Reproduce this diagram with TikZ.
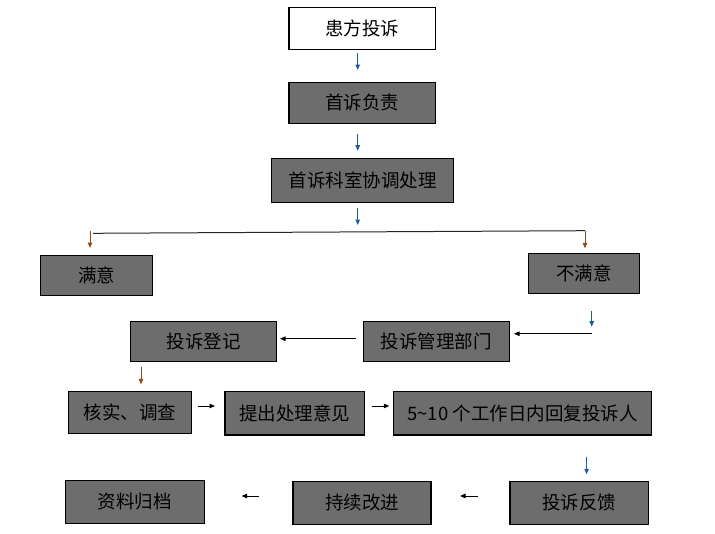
\documentclass[tikz,border=0pt]{standalone}
\usepackage{fontspec}
\newfontfamily\cjk{Noto Sans CJK SC}
\usetikzlibrary{arrows.meta}
\definecolor{boxgray}{RGB}{109,109,109}
\definecolor{arrblue}{RGB}{30,90,170}
\definecolor{arrbrown}{RGB}{140,75,20}
\tikzset{
  box/.style={draw=black, line width=1.2pt, fill=boxgray, inner sep=0pt,
    font=\cjk\fontsize{18.5}{18.5}\selectfont, text=black},
  conn/.style={line width=1pt, -{Triangle[length=5.5pt,width=4.5pt]}},
  bl/.style={conn, draw=arrblue},
  br/.style={conn, draw=arrbrown},
  bk/.style={conn, draw=black}
}
\begin{document}
\begin{tikzpicture}[x=1pt,y=-1pt]
\useasboundingbox (0,0) rectangle (715,533);
% boxes
\node[box, fill=white, minimum width=146.7pt, minimum height=42pt] (n1) at (362.3,28.3) {患方投诉};
\node[box, minimum width=146.7pt, minimum height=41pt] (n2) at (362.3,102.8) {首诉负责};
\node[box, minimum width=181.6pt, minimum height=44pt] (n3) at (362.5,180.3) {首诉科室协调处理};
\node[box, minimum width=112pt, minimum height=40pt] (n4) at (96.7,275.3) {满意};
\node[box, minimum width=111pt, minimum height=40pt] (n5) at (583.8,273.3) {不满意};
\node[box, minimum width=146pt, minimum height=40pt] (n6) at (203.7,341.3) {投诉登记};
\node[box, minimum width=146pt, minimum height=40pt] (n7) at (436.3,341.3) {投诉管理部门};
\node[box, minimum width=123.4pt, minimum height=41.6pt] (n8) at (130,412.5) {核实、调查};
\node[box, minimum width=139.3pt, minimum height=43.3pt] (n9) at (294.7,413.3) {提出处理意见};
\node[box, minimum width=258.4pt, minimum height=43.3pt] (n10) at (522.5,413.3) {5\textasciitilde10 个工作日内回复投诉人};
\node[box, minimum width=139pt, minimum height=42.6pt] (n11) at (134.9,502) {资料归档};
\node[box, minimum width=138pt, minimum height=43pt] (n12) at (362,502.8) {持续改进};
\node[box, minimum width=138.7pt, minimum height=43pt] (n13) at (579.3,502.8) {投诉反馈};
% connector end points
\coordinate (a1s) at (357.7,53.3);  \coordinate (a1e) at (357.7,70);
\coordinate (a2s) at (357.7,134);   \coordinate (a2e) at (357.7,150.7);
\coordinate (a3s) at (357.7,208.3); \coordinate (a3e) at (357.7,225);
\coordinate (hl) at (93,233.3);     \coordinate (hr) at (585,230.7);
\coordinate (a4s) at (90,231);      \coordinate (a4e) at (90,248);
\coordinate (a5e) at (585,248.3);
\coordinate (a6s) at (591.7,310.7); \coordinate (a6e) at (591.7,326.7);
\coordinate (a7s) at (591.7,333.7); \coordinate (a7e) at (514,333.7);
\coordinate (a8s) at (356,338.7);   \coordinate (a8e) at (280,338.7);
\coordinate (a9s) at (141,366.7);   \coordinate (a9e) at (141,384.3);
\coordinate (a10s) at (197.7,406);  \coordinate (a10e) at (215,406);
\coordinate (a11s) at (371.7,406);  \coordinate (a11e) at (389.3,406);
\coordinate (a12s) at (586.6,456.7);\coordinate (a12e) at (586.6,474.3);
\coordinate (a13s) at (478,496);    \coordinate (a13e) at (460,496);
\coordinate (a14s) at (259,496);    \coordinate (a14e) at (241.6,496);
% connectors
\draw[bl] (a1s) -- (a1e);
\draw[bl] (a2s) -- (a2e);
\draw[bl] (a3s) -- (a3e);
\draw[line width=1pt, black!85] (hl) -- (hr);
\draw[br] (a4s) -- (a4e);
\draw[br] (hr) -- (a5e);
\draw[bl] (a6s) -- (a6e);
\draw[bk] (a7s) -- (a7e);
\draw[bk] (a8s) -- (a8e);
\draw[br] (a9s) -- (a9e);
\draw[bk] (a10s) -- (a10e);
\draw[bk] (a11s) -- (a11e);
\draw[bl] (a12s) -- (a12e);
\draw[bk] (a13s) -- (a13e);
\draw[bk] (a14s) -- (a14e);
\end{tikzpicture}
\end{document}
